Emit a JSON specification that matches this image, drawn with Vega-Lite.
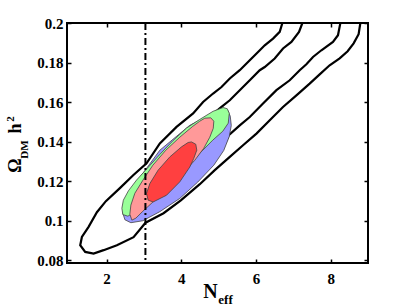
{
"$schema": "https://vega.github.io/schema/vega-lite/v6.json",
"width": 301, "height": 240,
"autosize": "none",
"padding": {"left": 67, "top": 23, "right": 41, "bottom": 45},
"background": "white",
"config": {"view": {"stroke": "black", "strokeWidth": 2},
 "axis": {"labelFont": "Liberation Serif", "labelFontWeight": "bold", "labelFontSize": 15, "labelColor": "black", "titleFont": "Liberation Serif", "titleFontWeight": "bold", "titleColor": "black", "tickColor": "black", "tickWidth": 1.5, "tickSize": -4, "domain": false, "grid": false}},
"datasets": {"c": [
{"g":"o","i":0,"x":6.708,"y":0.2},{"g":"o","i":1,"x":6.636,"y":0.1955},{"g":"o","i":2,"x":6.457,"y":0.1921},{"g":"o","i":3,"x":6.235,"y":0.1887},{"g":"o","i":4,"x":6.056,"y":0.1853},{"g":"o","i":5,"x":5.834,"y":0.1811},{"g":"o","i":6,"x":5.566,"y":0.1761},{"g":"o","i":7,"x":5.299,"y":0.1719},{"g":"o","i":8,"x":5.077,"y":0.1676},{"g":"o","i":9,"x":4.852,"y":0.1643},{"g":"o","i":10,"x":4.584,"y":0.16},{"g":"o","i":11,"x":4.317,"y":0.1542},{"g":"o","i":12,"x":3.873,"y":0.1474},{"g":"o","i":13,"x":3.426,"y":0.139},{"g":"o","i":14,"x":3.07,"y":0.129},{"g":"o","i":15,"x":2.712,"y":0.1229},{"g":"o","i":16,"x":2.356,"y":0.1164},{"g":"o","i":17,"x":1.981,"y":0.1098},{"g":"o","i":18,"x":1.741,"y":0.1042},{"g":"o","i":19,"x":1.518,"y":0.0968},{"g":"o","i":20,"x":1.339,"y":0.0917},{"g":"o","i":21,"x":1.294,"y":0.0875},{"g":"o","i":22,"x":1.427,"y":0.0841},{"g":"o","i":23,"x":1.652,"y":0.0833},{"g":"o","i":24,"x":1.92,"y":0.085},{"g":"o","i":25,"x":2.276,"y":0.0875},{"g":"o","i":26,"x":2.722,"y":0.0916},{"g":"o","i":27,"x":3.043,"y":0.0989},{"g":"o","i":28,"x":3.525,"y":0.1037},{"g":"o","i":29,"x":3.988,"y":0.1102},{"g":"o","i":30,"x":4.496,"y":0.1184},{"g":"o","i":31,"x":4.897,"y":0.1255},{"g":"o","i":32,"x":5.299,"y":0.1322},{"g":"o","i":33,"x":5.654,"y":0.1381},{"g":"o","i":34,"x":6.013,"y":0.144},{"g":"o","i":35,"x":6.369,"y":0.1508},{"g":"o","i":36,"x":6.724,"y":0.1575},{"g":"o","i":37,"x":7.083,"y":0.1634},{"g":"o","i":38,"x":7.438,"y":0.1693},{"g":"o","i":39,"x":7.706,"y":0.174},{"g":"o","i":40,"x":7.973,"y":0.1786},{"g":"o","i":41,"x":8.241,"y":0.1821},{"g":"o","i":42,"x":8.455,"y":0.1857},{"g":"o","i":43,"x":8.615,"y":0.1897},{"g":"o","i":44,"x":8.749,"y":0.1943},{"g":"o","i":45,"x":8.795,"y":0.2},
{"g":"i","i":0,"x":7.243,"y":0.2},{"g":"i","i":1,"x":7.153,"y":0.1955},{"g":"i","i":2,"x":6.949,"y":0.1904},{"g":"i","i":3,"x":6.725,"y":0.1871},{"g":"i","i":4,"x":6.502,"y":0.182},{"g":"i","i":5,"x":6.235,"y":0.1777},{"g":"i","i":6,"x":6.101,"y":0.1761},{"g":"i","i":7,"x":5.834,"y":0.171},{"g":"i","i":8,"x":5.566,"y":0.166},{"g":"i","i":9,"x":5.299,"y":0.1609},{"g":"i","i":10,"x":5.077,"y":0.1575},{"g":"i","i":11,"x":4.496,"y":0.1482},{"g":"i","i":12,"x":3.827,"y":0.1356},{"g":"i","i":13,"x":3.292,"y":0.1229},{"g":"i","i":14,"x":2.891,"y":0.1103},{"g":"i","i":15,"x":2.757,"y":0.1042},{"g":"i","i":16,"x":2.891,"y":0.1022},{"g":"i","i":17,"x":3.292,"y":0.1062},{"g":"i","i":18,"x":3.96,"y":0.1154},{"g":"i","i":19,"x":4.63,"y":0.1255},{"g":"i","i":20,"x":5.085,"y":0.1356},{"g":"i","i":21,"x":5.272,"y":0.1432},{"g":"i","i":22,"x":5.566,"y":0.1482},{"g":"i","i":23,"x":5.834,"y":0.1524},{"g":"i","i":24,"x":6.189,"y":0.1592},{"g":"i","i":25,"x":6.548,"y":0.166},{"g":"i","i":26,"x":6.904,"y":0.171},{"g":"i","i":27,"x":7.171,"y":0.1761},{"g":"i","i":28,"x":7.35,"y":0.1791},{"g":"i","i":29,"x":7.527,"y":0.1828},{"g":"i","i":30,"x":7.752,"y":0.1862},{"g":"i","i":31,"x":8.062,"y":0.1904},{"g":"i","i":32,"x":8.196,"y":0.1938},{"g":"i","i":33,"x":8.26,"y":0.2},
{"g":"b","i":0,"x":2.436,"y":0.1037},{"g":"b","i":1,"x":2.49,"y":0.1004},{"g":"b","i":2,"x":2.65,"y":0.0989},{"g":"b","i":3,"x":2.971,"y":0.0999},{"g":"b","i":4,"x":3.426,"y":0.1045},{"g":"b","i":5,"x":3.961,"y":0.1112},{"g":"b","i":6,"x":4.443,"y":0.1195},{"g":"b","i":7,"x":4.871,"y":0.128},{"g":"b","i":8,"x":5.138,"y":0.1355},{"g":"b","i":9,"x":5.285,"y":0.1425},{"g":"b","i":10,"x":5.339,"y":0.1481},{"g":"b","i":11,"x":5.312,"y":0.1528},{"g":"b","i":12,"x":5.245,"y":0.1558},{"g":"b","i":13,"x":4.897,"y":0.1548},{"g":"b","i":14,"x":4.228,"y":0.1482},{"g":"b","i":15,"x":3.426,"y":0.1356},{"g":"b","i":16,"x":2.837,"y":0.1204},{"g":"b","i":17,"x":2.49,"y":0.1088},{"g":"b","i":18,"x":2.436,"y":0.1037},
{"g":"g","i":0,"x":5.285,"y":0.1543},{"g":"g","i":1,"x":5.258,"y":0.1493},{"g":"g","i":2,"x":5.111,"y":0.1452},{"g":"g","i":3,"x":4.844,"y":0.1407},{"g":"g","i":4,"x":4.362,"y":0.1315},{"g":"g","i":5,"x":3.693,"y":0.1204},{"g":"g","i":6,"x":3.158,"y":0.1103},{"g":"g","i":7,"x":2.757,"y":0.1042},{"g":"g","i":8,"x":2.57,"y":0.1022},{"g":"g","i":9,"x":2.436,"y":0.103},{"g":"g","i":10,"x":2.409,"y":0.1062},{"g":"g","i":11,"x":2.449,"y":0.1103},{"g":"g","i":12,"x":2.583,"y":0.115},{"g":"g","i":13,"x":2.803,"y":0.1205},{"g":"g","i":14,"x":3.078,"y":0.1262},{"g":"g","i":15,"x":3.426,"y":0.1335},{"g":"g","i":16,"x":3.782,"y":0.1405},{"g":"g","i":17,"x":4.14,"y":0.1468},{"g":"g","i":18,"x":4.496,"y":0.1512},{"g":"g","i":19,"x":4.852,"y":0.1553},{"g":"g","i":20,"x":5.119,"y":0.1572},{"g":"g","i":21,"x":5.231,"y":0.1566},{"g":"g","i":22,"x":5.285,"y":0.1543},
{"g":"p","i":0,"x":4.63,"y":0.1518},{"g":"p","i":1,"x":4.79,"y":0.152},{"g":"p","i":2,"x":4.871,"y":0.1503},{"g":"p","i":3,"x":4.857,"y":0.1467},{"g":"p","i":4,"x":4.764,"y":0.1422},{"g":"p","i":5,"x":4.603,"y":0.1366},{"g":"p","i":6,"x":4.362,"y":0.1305},{"g":"p","i":7,"x":4.015,"y":0.1234},{"g":"p","i":8,"x":3.64,"y":0.1164},{"g":"p","i":9,"x":3.265,"y":0.1098},{"g":"p","i":10,"x":2.971,"y":0.1047},{"g":"p","i":11,"x":2.784,"y":0.1012},{"g":"p","i":12,"x":2.677,"y":0.1002},{"g":"p","i":13,"x":2.623,"y":0.1032},{"g":"p","i":14,"x":2.65,"y":0.1078},{"g":"p","i":15,"x":2.757,"y":0.1138},{"g":"p","i":16,"x":2.971,"y":0.1204},{"g":"p","i":17,"x":3.239,"y":0.128},{"g":"p","i":18,"x":3.586,"y":0.1356},{"g":"p","i":19,"x":3.961,"y":0.1422},{"g":"p","i":20,"x":4.309,"y":0.1477},{"g":"p","i":21,"x":4.496,"y":0.1503},{"g":"p","i":22,"x":4.63,"y":0.1518},
{"g":"r","i":0,"x":4.274,"y":0.1398},{"g":"r","i":1,"x":4.389,"y":0.1386},{"g":"r","i":2,"x":4.416,"y":0.1356},{"g":"r","i":3,"x":4.335,"y":0.1315},{"g":"r","i":4,"x":4.228,"y":0.1271},{"g":"r","i":5,"x":3.961,"y":0.1196},{"g":"r","i":6,"x":3.605,"y":0.1128},{"g":"r","i":7,"x":3.247,"y":0.1094},{"g":"r","i":8,"x":3.113,"y":0.1103},{"g":"r","i":9,"x":3.07,"y":0.1137},{"g":"r","i":10,"x":3.158,"y":0.1187},{"g":"r","i":11,"x":3.38,"y":0.1255},{"g":"r","i":12,"x":3.693,"y":0.1322},{"g":"r","i":13,"x":4.006,"y":0.1373},{"g":"r","i":14,"x":4.183,"y":0.1395},{"g":"r","i":15,"x":4.274,"y":0.1398}
]},
"data": {"name": "c"},
"resolve": {"axis": {"x": "independent", "y": "independent"}},
"layer": [
{"transform": [{"filter": "datum.g == 'o'"}],
 "mark": {"type": "line", "color": "black", "strokeWidth": 2.2, "clip": true},
 "encoding": {
  "x": {"field": "x", "type": "quantitative", "scale": {"domain": [0.94, 9], "nice": false, "zero": false},
        "axis": {"orient": "bottom", "values": [2, 4, 6, 8], "format": "~g", "labelPadding": 12, "title": "N", "titleFontSize": 20, "titleX": 143, "titleY": 34, "titleAlign": "center", "titleBaseline": "alphabetic", "titleAngle": 0}},
  "y": {"field": "y", "type": "quantitative", "scale": {"domain": [0.0785, 0.2], "nice": false, "zero": false},
        "axis": {"orient": "left", "values": [0.08, 0.1, 0.12, 0.14, 0.16, 0.18, 0.2], "format": "~g", "labelPadding": 8, "title": "Ω", "titleFontSize": 18, "titleX": -47, "titleY": 142, "titleAngle": -90, "titleAlign": "center", "titleBaseline": "alphabetic"}},
  "order": {"field": "i"}}},
{"transform": [{"filter": "datum.g == 'i'"}],
 "mark": {"type": "line", "color": "black", "strokeWidth": 2.2, "clip": true},
 "encoding": {
  "x": {"field": "x", "type": "quantitative", "scale": {"domain": [0.94, 9], "nice": false, "zero": false},
        "axis": {"orient": "bottom", "labels": false, "ticks": false, "title": "eff", "titleFontSize": 13, "titleX": 158, "titleY": 40, "titleAlign": "center", "titleBaseline": "alphabetic", "titleAngle": 0}},
  "y": {"field": "y", "type": "quantitative", "scale": {"domain": [0.0785, 0.2], "nice": false, "zero": false},
        "axis": {"orient": "left", "labels": false, "ticks": false, "title": "DM", "titleFontSize": 11, "titleX": -40, "titleY": 126, "titleAngle": -90, "titleAlign": "center", "titleBaseline": "alphabetic"}},
  "order": {"field": "i"}}},
{"transform": [{"filter": "datum.g == 'b'"}],
 "mark": {"type": "line", "fill": "#9999ff", "stroke": "#444444", "strokeWidth": 0.8, "clip": true},
 "encoding": {
  "x": {"field": "x", "type": "quantitative", "scale": {"domain": [0.94, 9], "nice": false, "zero": false},
        "axis": {"orient": "top", "values": [2, 4, 6, 8], "labels": false, "title": null}},
  "y": {"field": "y", "type": "quantitative", "scale": {"domain": [0.0785, 0.2], "nice": false, "zero": false},
        "axis": {"orient": "right", "values": [0.08, 0.1, 0.12, 0.14, 0.16, 0.18, 0.2], "labels": false, "title": null}},
  "order": {"field": "i"}}},
{"transform": [{"filter": "datum.g == 'g'"}],
 "mark": {"type": "line", "fill": "#99ff99", "stroke": "#444444", "strokeWidth": 0.8, "clip": true},
 "encoding": {
  "x": {"field": "x", "type": "quantitative", "scale": {"domain": [0.94, 9], "nice": false, "zero": false}, "axis": null},
  "y": {"field": "y", "type": "quantitative", "scale": {"domain": [0.0785, 0.2], "nice": false, "zero": false},
        "axis": {"orient": "left", "labels": false, "ticks": false, "title": "h", "titleFontSize": 18, "titleX": -47, "titleY": 105, "titleAngle": -90, "titleAlign": "center", "titleBaseline": "alphabetic"}},
  "order": {"field": "i"}}},
{"transform": [{"filter": "datum.g == 'p'"}],
 "mark": {"type": "line", "fill": "#ff9999", "stroke": "#444444", "strokeWidth": 0.8, "clip": true},
 "encoding": {
  "x": {"field": "x", "type": "quantitative", "scale": {"domain": [0.94, 9], "nice": false, "zero": false}, "axis": null},
  "y": {"field": "y", "type": "quantitative", "scale": {"domain": [0.0785, 0.2], "nice": false, "zero": false},
        "axis": {"orient": "left", "labels": false, "ticks": false, "title": "2", "titleFontSize": 11, "titleX": -54, "titleY": 95.5, "titleAngle": -90, "titleAlign": "center", "titleBaseline": "alphabetic"}},
  "order": {"field": "i"}}},
{"transform": [{"filter": "datum.g == 'r'"}],
 "mark": {"type": "line", "fill": "#ff4040", "stroke": "#444444", "strokeWidth": 0.8, "clip": true},
 "encoding": {
  "x": {"field": "x", "type": "quantitative", "scale": {"domain": [0.94, 9], "nice": false, "zero": false}, "axis": null},
  "y": {"field": "y", "type": "quantitative", "scale": {"domain": [0.0785, 0.2], "nice": false, "zero": false}, "axis": null},
  "order": {"field": "i"}}},
{"data": {"values": [{"x": 3.04}]},
 "mark": {"type": "rule", "color": "black", "strokeWidth": 2, "strokeDash": [7, 3, 2, 3]},
 "encoding": {
  "x": {"field": "x", "type": "quantitative", "scale": {"domain": [0.94, 9], "nice": false, "zero": false}, "axis": null}}}
]
}
